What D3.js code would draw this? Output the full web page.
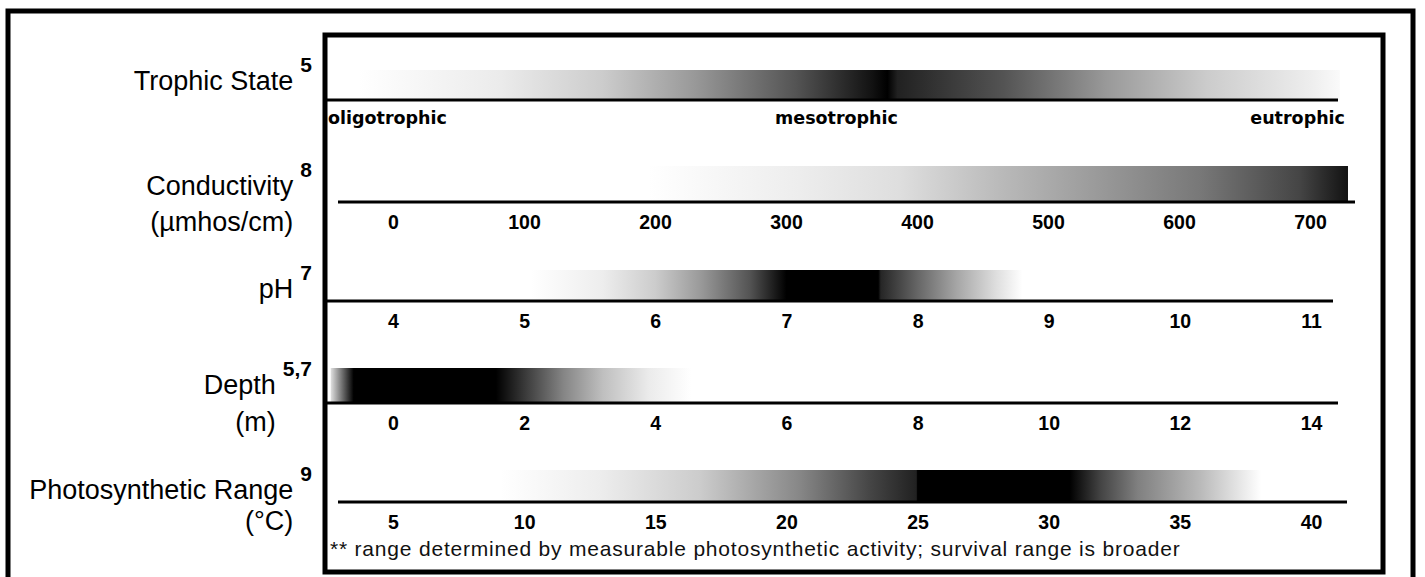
<!DOCTYPE html>
<meta charset="utf-8">
<style>
body { margin: 0; background: #fff; }
.label { font: 27px "Liberation Sans", Arial, sans-serif; fill: #000; }
.sup { font: bold 21px "Liberation Sans", Arial, sans-serif; fill: #000; }
.tick text { font: bold 19.5px "Liberation Sans", Arial, sans-serif; fill: #000; }
.state { font: bold 17.5px "DejaVu Sans", Verdana, sans-serif; fill: #000; }
.note { font: 21px "Liberation Sans", Arial, sans-serif; fill: #111; letter-spacing: 0.8px; }
.frame { fill: none; stroke: #000; stroke-width: 5; }
.base { stroke: #000; stroke-width: 3; }
</style>
<svg class="chart"></svg>
<script src="https://d3js.org/d3.v7.min.js"></script>
<script>

// row titles, reference numbers and units
var rowNames = ["Trophic State", "Conductivity", "pH", "Depth", "Photosynthetic Range"];
var rowRefs = ["5", "8", "7", "5,7", "9"];
var rowUnits = ["", "(\u00b5mhos/cm)", "", "(m)", "(\u00b0C)"];

// trophic state: categories, stops are [position on 0..2 scale, darkness 0..1]
var trophicStates = ["oligotrophic", "mesotrophic", "eutrophic"];
var trophicStops = [[0.06, 0], [0.34, 0.08], [0.54, 0.2], [0.72, 0.4], [0.92, 0.67],
  [1.07, 0.93], [1.10, 1], [1.12, 0.87], [1.33, 0.67], [1.53, 0.4], [1.73, 0.2],
  [1.93, 0.07], [1.99, 0.02]];

// conductivity (umhos/cm)
var conductivityTicks = [0, 100, 200, 300, 400, 500, 600, 700];
var conductivityStops = [[195, 0], [310, 0.07], [387, 0.13], [463, 0.27], [540, 0.4],
  [616, 0.53], [692, 0.73], [729, 0.93]];

// pH
var phTicks = [4, 5, 6, 7, 8, 9, 10, 11];
var phStops = [[5.05, 0], [5.6, 0.07], [6.0, 0.2], [6.35, 0.4], [6.72, 0.67], [7.0, 1],
  [7.7, 1], [7.72, 0.85], [8.0, 0.6], [8.3, 0.35], [8.6, 0.13], [8.8, 0]];

// depth (m)
var depthTicks = [0, 2, 4, 6, 8, 10, 12, 14];
var depthStops = [[-0.95, 0.12], [-0.6, 1], [1.57, 1], [2.0, 0.78], [2.6, 0.48],
  [3.2, 0.25], [3.9, 0.08], [4.55, 0]];

// photosynthetic range (deg C)
var tempTicks = [5, 10, 15, 20, 25, 30, 35, 40];
var tempStops = [[9.1, 0], [12.9, 0.07], [16.7, 0.2], [20.5, 0.47], [23.2, 0.73],
  [24.95, 0.87], [25.0, 1], [30.8, 1], [32.0, 0.73], [33.4, 0.5], [35.8, 0.27], [38.1, 0]];

var footnote = "** range determined by measurable photosynthetic activity; survival range is broader";

var width = 1425,
    height = 577;

var svg = d3.select(".chart")
    .attr("width", width)
    .attr("height", height);

var defs = svg.append("defs");

var shade = d3.scaleLinear().domain([0, 1]).range(["#fff", "#000"]);

var trophicX = d3.scaleLinear().domain([0, trophicStates.length - 1]).range([328, 1345]);

var rows = [
  {x: trophicX, stops: trophicStops, ticks: null, barTop: 70, lineY: 100, line: [325, 1338],
   labelY: 90, unitY: 0},
  {x: d3.scaleLinear().domain([0, 700]).range([393, 1310]), stops: conductivityStops,
   ticks: conductivityTicks, barTop: 166, lineY: 202, line: [338, 1355], labelY: 195, unitY: 231},
  {x: d3.scaleLinear().domain([4, 11]).range([393, 1311]), stops: phStops,
   ticks: phTicks, barTop: 270, lineY: 301, line: [325, 1333], labelY: 298, unitY: 0},
  {x: d3.scaleLinear().domain([0, 14]).range([393, 1311]), stops: depthStops,
   ticks: depthTicks, barTop: 368, lineY: 403, line: [325, 1338], labelY: 394, unitY: 431},
  {x: d3.scaleLinear().domain([5, 40]).range([393, 1311]), stops: tempStops,
   ticks: tempTicks, barTop: 470, lineY: 502, line: [338, 1347], labelY: 499, unitY: 530}
];

// frames
svg.append("rect").attr("class", "frame")
    .attr("x", 8).attr("y", 11).attr("width", 1405).attr("height", 640);
svg.append("rect").attr("class", "frame")
    .attr("x", 325).attr("y", 35).attr("width", 1058).attr("height", 537);

rows.forEach(function (r, i) {
  var x0 = r.x(r.stops[0][0]),
      x1 = r.x(r.stops[r.stops.length - 1][0]);

  var grad = defs.append("linearGradient")
      .attr("id", "g" + i)
      .attr("gradientUnits", "userSpaceOnUse")
      .attr("x1", x0).attr("x2", x1)
      .attr("y1", 0).attr("y2", 0);

  grad.selectAll("stop")
      .data(r.stops)
    .enter().append("stop")
      .attr("offset", function (d) { return (r.x(d[0]) - x0) / (x1 - x0); })
      .attr("stop-color", function (d) { return shade(d[1]); });

  svg.append("rect")
      .attr("x", x0)
      .attr("y", r.barTop)
      .attr("width", x1 - x0)
      .attr("height", r.lineY - r.barTop)
      .attr("fill", "url(#g" + i + ")");

  svg.append("line").attr("class", "base")
      .attr("x1", r.line[0]).attr("x2", r.line[1])
      .attr("y1", r.lineY).attr("y2", r.lineY);

  if (r.ticks) {
    var axis = svg.append("g")
        .attr("class", "axis")
        .attr("transform", "translate(0," + r.lineY + ")")
        .call(d3.axisBottom(r.x).tickValues(r.ticks).tickFormat(d3.format("d"))
          .tickSize(0).tickPadding(13));
    axis.select(".domain").remove();
    axis.selectAll(".tick text").attr("fill", "#000");
  }

  // title with superscript reference, right edge at 312
  var sup = svg.append("text").attr("class", "sup")
      .attr("x", 312).attr("y", r.labelY - 18)
      .attr("text-anchor", "end")
      .text(rowRefs[i]);
  var labelEnd = 312 - sup.node().getComputedTextLength() - 7;

  svg.append("text").attr("class", "label")
      .attr("x", labelEnd).attr("y", r.labelY)
      .attr("text-anchor", "end")
      .text(rowNames[i]);

  if (rowUnits[i]) {
    svg.append("text").attr("class", "label")
        .attr("x", labelEnd).attr("y", r.unitY)
        .attr("text-anchor", "end")
        .text(rowUnits[i]);
  }
});

// trophic state names under the first bar
svg.selectAll(".state")
    .data(trophicStates)
  .enter().append("text")
    .attr("class", "state")
    .attr("x", function (d, i) { return trophicX(i); })
    .attr("y", 124)
    .attr("text-anchor", function (d, i) { return ["start", "middle", "end"][i]; })
    .text(function (d) { return d; });

svg.append("text").attr("class", "note")
    .attr("x", 330).attr("y", 556)
    .text(footnote);

</script>
